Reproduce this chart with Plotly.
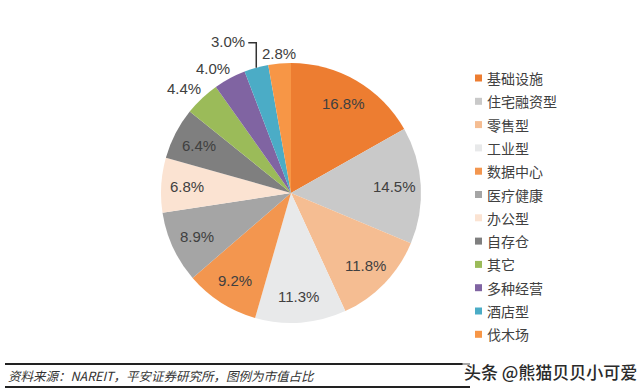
import math
import plotly.graph_objects as go

categories = ["基础设施", "住宅融资型", "零售型", "工业型", "数据中心", "医疗健康",
              "办公型", "自存仓", "其它", "多种经营", "酒店型", "伐木场"]
shares = [16.8, 14.5, 11.8, 11.3, 9.2, 8.9, 6.8, 6.4, 4.4, 4.0, 3.0, 2.8]
colors = ["#ED7D31", "#C9C9C9", "#F5BD92", "#E8E9EA", "#F3964F", "#A5A5A5",
          "#FBE3D2", "#7F7F7F", "#9BBB59", "#8064A2", "#4BACC6", "#F79646"]
label_style = ["in"] * 8 + ["out", "out", "leader", "out"]

source_note = "资料来源：NAREIT，平安证券研究所，图例为市值占比"
watermark = "头条 @熊猫贝贝小可爱"

W, H = 640, 391
CX, CY, R = 291, 193, 130          # pie centre / radius in pixels (layout)


def px(x):
    return x / W


def py(y):
    return 1 - y / H


fig = go.Figure()
fig.add_trace(go.Pie(
    labels=categories,
    values=shares,
    sort=False,
    direction="clockwise",
    rotation=0,
    marker=dict(colors=colors, line=dict(width=0)),
    textinfo="none",
    domain=dict(x=[px(CX - R), px(CX + R)], y=[py(CY + R), py(CY - R)]),
    hoverinfo="label+value",
    showlegend=False,
))

annotations = []
shapes = []
label_font = dict(family="Liberation Sans, Arial", size=15, color="#404040")

total = sum(shares)
cum = 0.0
for val, style in zip(shares, label_style):
    mid = (cum + val / 2) / total * 2 * math.pi
    cum += val
    s, c = math.sin(mid), math.cos(mid)
    txt = f"{val:.1f}%"
    if style == "in":
        r = 0.8 * R
        annotations.append(dict(text=txt, xref="paper", yref="paper",
                                x=px(CX + r * s), y=py(CY - r * c),
                                xanchor="center", yanchor="middle",
                                showarrow=False, font=label_font))
    elif style == "out":
        r = R + 4
        xa = "center" if abs(s) < 0.25 else ("right" if s < 0 else "left")
        ya = "bottom" if c > 0.25 else ("top" if c < -0.25 else "middle")
        annotations.append(dict(text=txt, xref="paper", yref="paper",
                                x=px(CX + r * s + (4 if xa == "right" else 0)),
                                y=py(CY - r * c),
                                xanchor=xa, yanchor=ya, yshift=-4,
                                showarrow=False, font=label_font))
    else:  # label pulled up with an elbow leader line
        x0, y0 = CX + R * s, CY - R * c
        y1 = y0 - 25
        x1 = x0 - 8
        shapes.append(dict(type="path", xref="paper", yref="paper",
                           path=f"M {px(x0)} {py(y0)} L {px(x0)} {py(y1)} L {px(x1)} {py(y1)}",
                           line=dict(color="#333333", width=1.5)))
        annotations.append(dict(text=txt, xref="paper", yref="paper",
                                x=px(x1 - 1), y=py(y1 - 1),
                                xanchor="right", yanchor="middle",
                                showarrow=False, font=label_font))

# legend drawn as colour squares + text
LX, LY, LSTEP = 478.5, 78, 23.3
for i, (name, col) in enumerate(zip(categories, colors)):
    yc = LY + i * LSTEP
    shapes.append(dict(type="rect", xref="paper", yref="paper",
                       x0=px(LX - 3.5), x1=px(LX + 3.5),
                       y0=py(yc + 3.5), y1=py(yc - 3.5),
                       fillcolor=col, line=dict(width=0)))
    annotations.append(dict(text=name, xref="paper", yref="paper",
                            x=px(LX + 6), y=py(yc), xanchor="left", yanchor="middle",
                            showarrow=False,
                            font=dict(family="Noto Sans CJK SC", size=14, color="#404040")))

# source note frame lines
for yl in (364, 387):
    shapes.append(dict(type="line", xref="paper", yref="paper",
                       x0=px(5), x1=px(470), y0=py(yl), y1=py(yl),
                       line=dict(color="#222222", width=2)))

annotations.append(dict(text="<i>" + source_note + "</i>", xref="paper", yref="paper",
                        x=px(6), y=py(375), xanchor="left", yanchor="middle",
                        showarrow=False,
                        font=dict(family="Noto Sans CJK SC", size=12.5, color="#333333")))
annotations.append(dict(text=watermark, xref="paper", yref="paper",
                        x=px(639), y=py(371), xanchor="right", yanchor="middle",
                        showarrow=False, bgcolor="rgba(255,255,255,0.6)",
                        font=dict(family="Noto Sans CJK SC", size=17, color="#2a2a2a",
                                  weight=500)))

fig.update_layout(
    width=W, height=H,
    margin=dict(l=0, r=0, t=0, b=0),
    paper_bgcolor="white",
    plot_bgcolor="white",
    shapes=shapes,
    annotations=annotations,
)

fig.write_html("out.html", config={"displayModeBar": False},
               post_script="document.body.style.margin='0';")
